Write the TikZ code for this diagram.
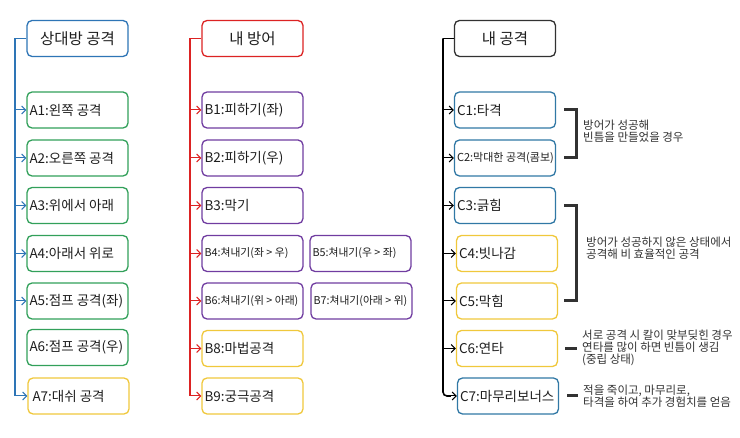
\documentclass[tikz,border=0pt]{standalone}
\usepackage{fontspec}
\setmainfont{Noto Sans CJK KR}
\usetikzlibrary{arrows.meta}
\definecolor{cblue}{RGB}{46,117,182}
\definecolor{cgreen}{RGB}{50,160,90}
\definecolor{cyellow}{RGB}{240,200,60}
\definecolor{cpurple}{RGB}{112,60,160}
\definecolor{cred}{RGB}{220,35,35}
\definecolor{cteal}{RGB}{49,120,165}
\definecolor{cdark}{RGB}{50,50,50}
\definecolor{ctext}{RGB}{30,30,30}
\newcommand{\boxtxt}[1]{\makebox[96pt][l]{#1}}
\begin{document}
\begin{tikzpicture}[x=1pt,y=-1pt,
  box/.style={draw, rounded corners=5pt, line width=1.3pt, minimum width=101pt, minimum height=36pt, inner sep=0pt, text=ctext, font=\fontsize{13.5}{15}\selectfont},
  hdr/.style={box, font=\fontsize{15.5}{17}\selectfont},
  small/.style={font=\fontsize{10.8}{12}\selectfont},
  vline/.style={line width=1.6pt},
  arr/.style={line width=1pt, -{Straight Barb[length=4pt,width=8pt]}},
  brk/.style={line width=3pt, line join=miter, cdark},
  note/.style={anchor=west, align=left, text=cdark, inner sep=0pt, font=\fontsize{11.5}{12}\selectfont}]
\useasboundingbox (0,0) rectangle (740,438);
\fill[white] (0,0) rectangle (740,438);

% left column
\node[hdr, draw=cblue] (ha) at (77.5,38.5) {상대방 공격};
\node[box, draw=cgreen] (a1) at (77.5,110) {\boxtxt{A1:왼쪽 공격}};
\node[box, draw=cgreen] (a2) at (77.5,158) {\boxtxt{A2:오른쪽 공격}};
\node[box, draw=cgreen] (a3) at (77.5,205.5) {\boxtxt{A3:위에서 아래}};
\node[box, draw=cgreen] (a4) at (77.5,253.5) {\boxtxt{A4:아래서 위로}};
\node[box, draw=cgreen] (a5) at (77.5,301) {\boxtxt{A5:점프 공격(좌)}};
\node[box, draw=cgreen] (a6) at (77.5,347.5) {\boxtxt{A6:점프 공격(우)}};
\node[box, draw=cyellow] (a7) at (78.5,396) {\boxtxt{\hspace{2pt}A7:대쉬 공격}};
\coordinate (ta) at (15,38.5);
\draw[vline, cblue] (ha.west) -- (ta) -- (ta |- a7.west);
\foreach \n in {a1,a2,a3,a4,a5,a7}
  \draw[arr, cblue] (ta |- \n.west) -- (\n.west);

% middle column
\node[hdr, draw=cred] (hb) at (252.5,38.5) {내 방어};
\node[box, draw=cpurple] (b1) at (252.5,110) {\boxtxt{B1:피하기(좌)}};
\node[box, draw=cpurple] (b2) at (252.5,158) {\boxtxt{B2:피하기(우)}};
\node[box, draw=cpurple] (b3) at (252.5,205.5) {\boxtxt{B3:막기}};
\node[box, draw=cpurple, small] (b4) at (252.5,253.5) {\boxtxt{B4:쳐내기(좌 > 우)}};
\node[box, draw=cpurple, small] (b5) at (360.5,253.5) {\boxtxt{B5:쳐내기(우 > 좌)}};
\node[box, draw=cpurple, small] (b6) at (252.5,301) {\boxtxt{B6:쳐내기(위 > 아래)}};
\node[box, draw=cpurple, small] (b7) at (361.5,301) {\boxtxt{B7:쳐내기(아래 > 위)}};
\node[box, draw=cyellow] (b8) at (252.5,348.5) {\boxtxt{B8:마법공격}};
\node[box, draw=cyellow] (b9) at (252.5,396) {\boxtxt{B9:궁극공격}};
\coordinate (tb) at (190,38.5);
\draw[vline, cred] (hb.west) -- (tb) -- (tb |- b9.west);
\foreach \n in {b1,b2,b3,b4,b6,b8,b9}
  \draw[arr, cred] (tb |- \n.west) -- (\n.west);

% right column
\node[hdr, draw=cdark] (hc) at (505,38.5) {내 공격};
\node[box, draw=cteal] (c1) at (505,110) {\boxtxt{C1:타격}};
\node[box, draw=cteal, font=\fontsize{11}{12}\selectfont] (c2) at (505,158) {\boxtxt{C2:막대한 공격(콤보)}};
\node[box, draw=cteal] (c3) at (505,205.5) {\boxtxt{C3:긁힘}};
\node[box, draw=cyellow] (c4) at (507,253.5) {\boxtxt{C4:빗나감}};
\node[box, draw=cyellow] (c5) at (507,301) {\boxtxt{C5:막힘}};
\node[box, draw=cyellow] (c6) at (507,348.5) {\boxtxt{C6:연타}};
\node[box, draw=cteal] (c7) at (508,396) {\boxtxt{C7:마무리보너스}};
\coordinate (tc) at (443,38.5);
\draw[vline, black] (hc.west) -- (tc);
\draw[vline, black, rounded corners=4pt] (tc) -- (tc |- c7.west) -- ([xshift=-6pt]c7.west);
\foreach \n in {c1,c2,c3,c4,c5,c6,c7}
  \draw[arr, black] ([xshift=-12pt]\n.west) -- (\n.west);

% brackets and notes
\coordinate (bx) at (564,0);
\draw[brk] (bx |- c1.east) -- ++(12,0) -- ++(0,48) -- (bx |- c2.east);
\draw[brk] (bx |- c3.east) -- ++(12,0) -- ++(0,95.5) -- (bx |- c5.east);
\draw[brk] ([xshift=1pt]bx |- c6.east) -- ++(12,0);
\draw[brk] ([xshift=3pt]bx |- c7.east) -- ++(11,0);
\node[note] (n1) at (583,131) {방어가 성공해\\빈틈을 만들었을 경우};
\node[note] (n2) at (586,248.5) {방어가 성공하지 않은 상태에서\\공격해 비 효율적인 공격};
\node[note] (n3) at (582,348) {서로 공격 시 칼이 맞부딪힌 경우\\연타를 많이 하면 빈틈이 생김\\(중립 상태)};
\node[note] (n4) at (583,396) {적을 죽이고, 마무리로,\\타격을 하여 추가 경험치를 얻음};
\end{tikzpicture}
\end{document}
